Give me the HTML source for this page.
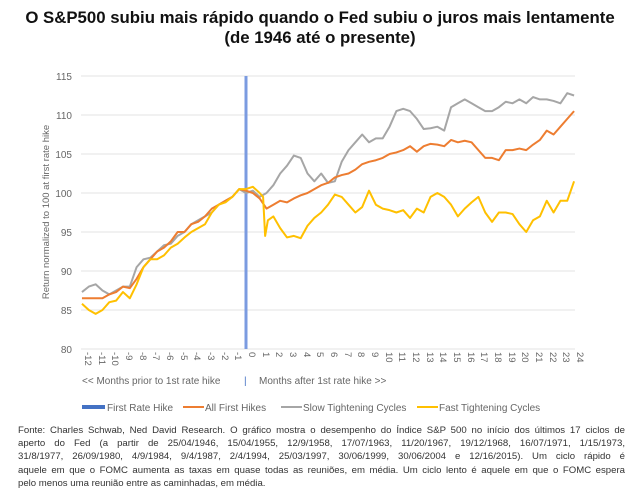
<!DOCTYPE html>
<html><head><meta charset="utf-8"><style>
body{margin:0;width:640px;height:497px;background:#fff;overflow:hidden;font-family:"Liberation Sans",sans-serif;}
.t{position:absolute;left:0;width:640px;text-align:center;font-weight:bold;font-size:16.8px;color:#111;}
.f{position:absolute;left:18px;width:607px;font-size:9.6px;color:#333;line-height:13.2px;}
.f div{text-align:justify;text-align-last:justify;white-space:nowrap;height:13.2px;}
.f div.l{text-align-last:left;}
</style></head><body>
<div class="t" style="top:8px">O S&amp;P500 subiu mais rápido quando o Fed subiu o juros mais lentamente</div>
<div class="t" style="top:28px">(de 1946 até o presente)</div>
<svg width="640" height="420" style="position:absolute;left:0;top:0" font-family="Liberation Sans, sans-serif">
<g stroke="#e3e3e3" stroke-width="1">
<line x1="81" x2="575" y1="76" y2="76"/><line x1="81" x2="575" y1="115" y2="115"/><line x1="81" x2="575" y1="154" y2="154"/><line x1="81" x2="575" y1="193" y2="193"/><line x1="81" x2="575" y1="232" y2="232"/><line x1="81" x2="575" y1="271" y2="271"/><line x1="81" x2="575" y1="310" y2="310"/><line x1="81" x2="575" y1="349" y2="349"/>
</g>
<g font-size="10" fill="#666" text-anchor="end">
<text x="72" y="80">115</text><text x="72" y="119">110</text><text x="72" y="158">105</text><text x="72" y="197">100</text><text x="72" y="236">95</text><text x="72" y="275">90</text><text x="72" y="314">85</text><text x="72" y="353">80</text>
</g>
<text transform="translate(49,212) rotate(-90)" font-size="9.5" fill="#666" text-anchor="middle">Return normalized to 100 at first rate hike</text>
<line x1="246" x2="246" y1="76" y2="349" stroke="#7b9be0" stroke-width="3"/>
<g transform="translate(246,193) scale(13.67,-7.8)" fill="none" stroke-width="2" stroke-linejoin="round">
<polyline vector-effect="non-scaling-stroke" stroke="#a6a6a6" points="-12,-12.7 -11.5,-12 -11,-11.7 -10.5,-12.5 -10,-13 -9.5,-12.5 -9,-12 -8.5,-12 -8,-9.5 -7.5,-8.5 -7,-8.3 -6.5,-7.5 -6,-6.7 -5.5,-6.5 -5,-5.5 -4.5,-5 -4,-4 -3.5,-3.5 -3,-3 -2.5,-2.5 -2,-1.5 -1.5,-1 -1,-0.5 -0.5,0.5 0,0 0.5,0.3 1,-0.5 1.5,0 2,1 2.5,2.5 3,3.5 3.5,4.8 4,4.5 4.5,2.5 5,1.5 5.5,2.5 6,1.3 6.5,1.5 7,4 7.5,5.5 8,6.5 8.5,7.5 9,6.5 9.5,7 10,7 10.5,8.5 11,10.5 11.5,10.8 12,10.5 12.5,9.5 13,8.2 13.5,8.3 14,8.5 14.5,8 15,11 15.5,11.5 16,12 16.5,11.5 17,11 17.5,10.5 18,10.5 18.5,11 19,11.7 19.5,11.5 20,12 20.5,11.5 21,12.3 21.5,12 22,12 22.5,11.8 23,11.5 23.5,12.8 24,12.5"/>
<polyline vector-effect="non-scaling-stroke" stroke="#ed7d31" points="-12,-13.5 -11,-13.5 -10.5,-13.5 -10,-13 -9.5,-12.7 -9,-12 -8.5,-12.2 -8,-11 -7.5,-9.5 -7,-8.5 -6.5,-7.5 -6,-7 -5.5,-6.2 -5,-5 -4.5,-5 -4,-4 -3.5,-3.7 -3,-3 -2.5,-2 -2,-1.5 -1.5,-1 -1,-0.5 -0.5,0.5 0,0.3 0.5,0 1,-0.7 1.5,-2 2,-1.5 2.5,-1 3,-1.2 3.5,-0.7 4,-0.3 4.5,0 5,0.5 5.5,1 6,1.3 6.5,2 7,2.3 7.5,2.5 8,3 8.5,3.7 9,4 9.5,4.2 10,4.5 10.5,5 11,5.2 11.5,5.5 12,6 12.5,5.3 13,6 13.5,6.3 14,6.2 14.5,6 15,6.8 15.5,6.5 16,6.7 16.5,6.5 17,5.5 17.5,4.5 18,4.5 18.5,4.2 19,5.5 19.5,5.5 20,5.7 20.5,5.5 21,6.2 21.5,6.8 22,8 22.5,7.5 23,8.5 23.5,9.5 24,10.5"/>
<polyline vector-effect="non-scaling-stroke" stroke="#ffc000" points="-12,-14.2 -11.5,-15 -11,-15.5 -10.5,-15 -10,-14 -9.5,-13.8 -9,-12.7 -8.5,-13.5 -8,-11.7 -7.5,-9.5 -7,-8.5 -6.5,-8.5 -6,-8 -5.5,-7 -5,-6.5 -4.5,-5.7 -4,-5 -3.5,-4.5 -3,-4 -2.5,-2.5 -2,-1.5 -1.5,-1.2 -1,-0.5 -0.5,0.5 0,0.5 0.5,0.8 1,0 1.25,-0.5 1.4,-5.5 1.6,-3.5 2,-3 2.5,-4.5 3,-5.7 3.5,-5.5 4,-5.8 4.5,-4.2 5,-3.2 5.5,-2.5 6,-1.5 6.5,-0.2 7,-0.5 7.5,-1.5 8,-2.5 8.5,-1.8 9,0.3 9.5,-1.5 10,-2 10.5,-2.2 11,-2.5 11.5,-2.2 12,-3.2 12.5,-2 13,-2.5 13.5,-0.5 14,0 14.5,-0.5 15,-1.5 15.5,-3 16,-2 16.5,-1.2 17,-0.5 17.5,-2.5 18,-3.7 18.5,-2.5 19,-2.5 19.5,-2.7 20,-4 20.5,-5 21,-3.5 21.5,-3 22,-1 22.5,-2.5 23,-1 23.5,-1 24,1.5"/>
</g>
<g font-size="10" fill="#666">
<text x="82" y="384">&lt;&lt;  Months prior to 1st rate hike</text>
<text x="244" y="384" fill="#4472c4">|</text>
<text x="259" y="384">Months after 1st rate hike  &gt;&gt;</text>
<rect x="82" y="405" width="23" height="4" fill="#4472c4"/><text x="107" y="411">First Rate Hike</text>
<line x1="183" x2="204" y1="407" y2="407" stroke="#ed7d31" stroke-width="2"/><text x="205" y="411">All First Hikes</text>
<line x1="281" x2="302" y1="407" y2="407" stroke="#a6a6a6" stroke-width="2"/><text x="303" y="411">Slow Tightening Cycles</text>
<line x1="417" x2="438" y1="407" y2="407" stroke="#ffc000" stroke-width="2"/><text x="439" y="411">Fast Tightening Cycles</text>
</g>
<g font-size="9.5" fill="#666">
<text transform="translate(85,352) rotate(90)">-12</text><text transform="translate(99,352) rotate(90)">-11</text><text transform="translate(112,352) rotate(90)">-10</text><text transform="translate(126,352) rotate(90)">-9</text><text transform="translate(140,352) rotate(90)">-8</text><text transform="translate(153,352) rotate(90)">-7</text><text transform="translate(167,352) rotate(90)">-6</text><text transform="translate(181,352) rotate(90)">-5</text><text transform="translate(194,352) rotate(90)">-4</text><text transform="translate(208,352) rotate(90)">-3</text><text transform="translate(222,352) rotate(90)">-2</text><text transform="translate(235,352) rotate(90)">-1</text><text transform="translate(249,352) rotate(90)">0</text><text transform="translate(263,352) rotate(90)">1</text><text transform="translate(276,352) rotate(90)">2</text><text transform="translate(290,352) rotate(90)">3</text><text transform="translate(304,352) rotate(90)">4</text><text transform="translate(317,352) rotate(90)">5</text><text transform="translate(331,352) rotate(90)">6</text><text transform="translate(345,352) rotate(90)">7</text><text transform="translate(358,352) rotate(90)">8</text><text transform="translate(372,352) rotate(90)">9</text><text transform="translate(386,352) rotate(90)">10</text><text transform="translate(399,352) rotate(90)">11</text><text transform="translate(413,352) rotate(90)">12</text><text transform="translate(427,352) rotate(90)">13</text><text transform="translate(440,352) rotate(90)">14</text><text transform="translate(454,352) rotate(90)">15</text><text transform="translate(468,352) rotate(90)">16</text><text transform="translate(481,352) rotate(90)">17</text><text transform="translate(495,352) rotate(90)">18</text><text transform="translate(509,352) rotate(90)">19</text><text transform="translate(522,352) rotate(90)">20</text><text transform="translate(536,352) rotate(90)">21</text><text transform="translate(550,352) rotate(90)">22</text><text transform="translate(563,352) rotate(90)">23</text><text transform="translate(577,352) rotate(90)">24</text>
</g>
</svg>
<div class="f" style="top:424px">
<div>Fonte: Charles Schwab, Ned David Research. O gráfico mostra o desempenho do Índice S&amp;P 500 no início dos últimos 17 ciclos de</div>
<div>aperto do Fed (a partir de 25/04/1946, 15/04/1955, 12/9/1958, 17/07/1963, 11/20/1967, 19/12/1968, 16/07/1971, 1/15/1973,</div>
<div>31/8/1977, 26/09/1980, 4/9/1984, 9/4/1987, 2/4/1994, 25/03/1997, 30/06/1999, 30/06/2004 e 12/16/2015). Um ciclo rápido é</div>
<div>aquele em que o FOMC aumenta as taxas em quase todas as reuniões, em média. Um ciclo lento é aquele em que o FOMC espera</div>
<div class="l">pelo menos uma reunião entre as caminhadas, em média.</div>
</div>
</body></html>
